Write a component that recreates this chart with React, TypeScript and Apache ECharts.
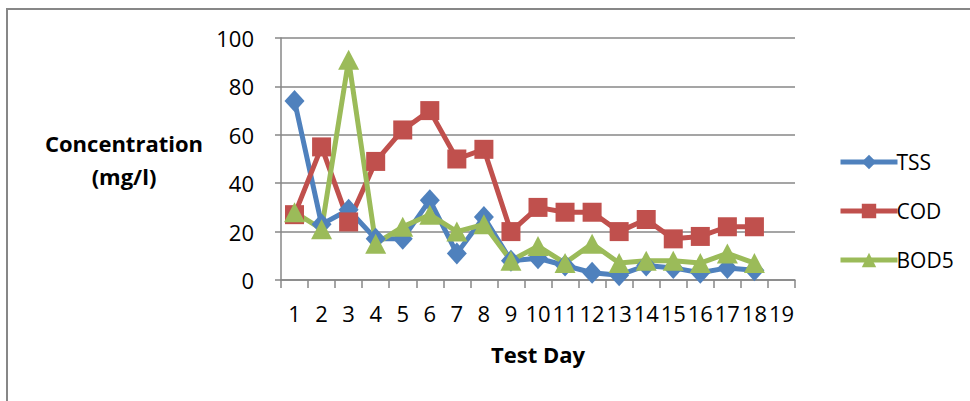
import React, { useEffect, useRef } from "react";
import * as echarts from "echarts";

const days = ["1","2","3","4","5","6","7","8","9","10","11","12","13","14","15","16","17","18","19"];
const tss = [74, 23, 29, 17, 17, 33, 11, 26, 8, 9, 6, 3, 2, 6, 5, 3, 5, 4];
const cod = [27, 55, 24, 49, 62, 70, 50, 54, 20, 30, 28, 28, 20, 25, 17, 18, 22, 22];
const bod5 = [28, 21, 91, 15, 22, 27, 20, 23, 8, 14, 7, 15, 7, 8, 8, 7, 11, 7];
const yTicks = [0, 20, 40, 60, 80, 100];

const FONT = "'Open Sans', 'Liberation Sans', sans-serif";
const GRAY = "#878787";

export default function App() {
  const ref = useRef<HTMLDivElement>(null);
  useEffect(() => {
    if (!ref.current) return;
    const chart = echarts.init(ref.current, undefined, { renderer: "svg" });
    const mk = (name: string, data: number[], color: string, symbol: string, size: any) => ({
      name,
      type: "line",
      data,
      symbol,
      symbolSize: size,
      showAllSymbol: true,
      lineStyle: { color, width: 5 },
      itemStyle: { color },
    });
    chart.setOption({
      animation: false,
      textStyle: { fontFamily: FONT },
      grid: { left: 281, top: 38, right: 175, bottom: 121 },
      legend: {
        orient: "vertical",
        left: 833,
        top: 146,
        itemWidth: 57,
        itemHeight: 18,
        itemGap: 27,
        lineStyle: { width: 5 },
        textStyle: { fontSize: 21, color: "#000", fontFamily: FONT, lineHeight: 22, padding: [0, 0, 0, -6] },
        data: ["TSS", "COD", "BOD5"],
      },
      xAxis: {
        type: "category",
        data: days,
        boundaryGap: true,
        axisLine: { lineStyle: { color: GRAY, width: 1.5 } },
        axisTick: { show: true, interval: 0, length: 8, lineStyle: { color: GRAY, width: 1.5 } },
        axisLabel: { interval: 0, fontSize: 22, color: "#000", margin: 22, fontFamily: FONT },
      },
      yAxis: {
        type: "value",
        min: yTicks[0],
        max: yTicks[yTicks.length - 1],
        interval: 20,
        axisLine: { show: true, lineStyle: { color: GRAY, width: 1.5 } },
        axisTick: { show: true, length: 6, lineStyle: { color: GRAY, width: 1.5 } },
        axisLabel: { fontSize: 22, color: "#000", margin: 27, fontFamily: FONT },
        splitLine: { lineStyle: { color: GRAY, width: 1.5 } },
      },
      graphic: [
        { type: "line", shape: { x1: 7, y1: 8, x2: 7, y2: 401 }, style: { stroke: GRAY, lineWidth: 2 } },
        { type: "line", shape: { x1: 6, y1: 9, x2: 970, y2: 9 }, style: { stroke: GRAY, lineWidth: 2 } },
        {
          type: "text",
          x: 124,
          y: 159,
          style: {
            text: "Concentration\n(mg/l)",
            font: `bold 22px ${FONT}`,
            fill: "#000",
            textAlign: "center",
            textVerticalAlign: "middle",
            lineHeight: 33,
          },
        },
        {
          type: "text",
          x: 538,
          y: 354,
          style: {
            text: "Test Day",
            font: `bold 22px ${FONT}`,
            fill: "#000",
            textAlign: "center",
            textVerticalAlign: "middle",
          },
        },
      ],
      series: [
        mk("TSS", tss, "#4F81BD", "diamond", [20, 22]),
        mk("COD", cod, "#C0504D", "rect", 19),
        mk("BOD5", bod5, "#9BBB59", "triangle", [21, 20]),
      ],
    });
    return () => chart.dispose();
  }, []);
  return <div ref={ref} style={{ position: "absolute", left: 0, top: 0, width: 970, height: 401 }} />;
}
